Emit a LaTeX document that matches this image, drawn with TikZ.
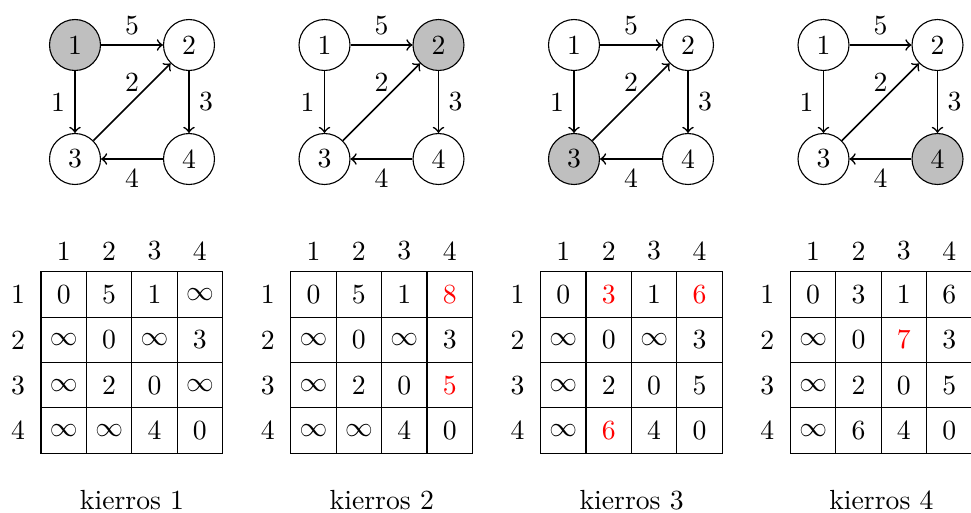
\documentclass[tikz,border=0pt]{standalone}
\usetikzlibrary{positioning}
\newcommand\chg[1]{\textcolor{red}{#1}}
\begin{document}
\begin{tikzpicture}[
        x=0.01269cm, y=-0.01269cm,
        >=to,
        vertex/.style={draw, circle, minimum size=0.647cm, inner sep=0pt},
        v1/.style={}, v2/.style={}, v3/.style={}, v4/.style={},
        edge/.style={->, semithick},
        cell/.style={draw, minimum size=0.576cm, inner sep=0pt, outer sep=0pt},
        caption/.style={font=\normalsize}
    ]
    \useasboundingbox (0,0) rectangle (971,512);

    % --- Graphs, one per round (current vertex shaded) ---
    \foreach \p/\cur in {0/1,1/2,2/3,3/4} {
        \begin{scope}[shift={(\p*249.5,0)}, v\cur/.style={fill=gray!50}]
            \foreach \v/\px/\py in {1/75/45, 2/189/45, 3/75/159, 4/189/159}
                \node[vertex, v\v] (g\p-\v) at (\px,\py) {\v};
            \draw[edge] (g\p-1) -- node[above] {5} (g\p-2);
            \draw[edge] (g\p-1) -- node[left] {1} (g\p-3);
            \draw[edge] (g\p-3) -- node[above] {2} (g\p-2);
            \draw[edge] (g\p-2) -- node[right] {3} (g\p-4);
            \draw[edge] (g\p-4) -- node[below] {4} (g\p-3);
        \end{scope}
    }

    % --- Distance matrices after each round ---
    \foreach \p/\rows in {
        0/{1/0/5/1/\infty, 2/\infty/0/\infty/3, 3/\infty/2/0/\infty, 4/\infty/\infty/4/0},
        1/{1/0/5/1/\chg{8}, 2/\infty/0/\infty/3, 3/\infty/2/0/\chg{5}, 4/\infty/\infty/4/0},
        2/{1/0/\chg{3}/1/\chg{6}, 2/\infty/0/\infty/3, 3/\infty/2/0/5, 4/\infty/\chg{6}/4/0},
        3/{1/0/3/1/6, 2/\infty/0/\chg{7}/3, 3/\infty/2/0/5, 4/\infty/6/4/0}} {
        \begin{scope}[shift={(\p*249.8,0)}]
            \foreach \j in {1,...,4} {
                \node (col\p-\j) at (63.7+45.4*\j-45.4, 251) {\j};
                \node (row\p-\j) at (18, 294.4+45.4*\j-45.4) {\j};
            }
            \foreach \r/\a/\b/\c/\d in \rows {
                \foreach \j/\val in {1/\a, 2/\b, 3/\c, 4/\d}
                    \node[cell] (m\p-\r-\j) at (63.7+45.4*\j-45.4, 294.4+45.4*\r-45.4) {$\val$};
            }
            \pgfmathtruncatemacro\round{\p+1}
            \node[caption] (cap\p) at (132, 500) {kierros \round};
        \end{scope}
    }
\end{tikzpicture}
\end{document}
